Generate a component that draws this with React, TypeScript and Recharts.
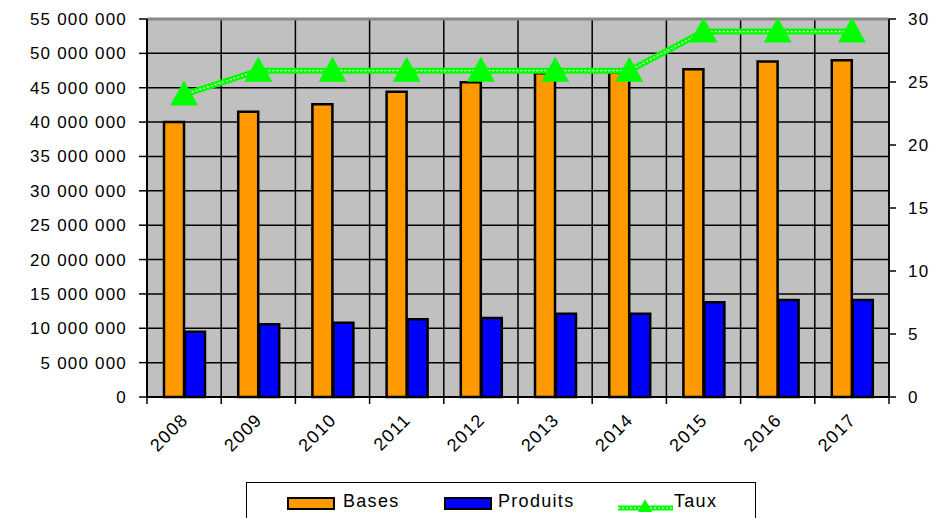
import React from 'react'
import {
  ComposedChart, Bar, Line, XAxis, YAxis, CartesianGrid, ReferenceLine,
} from 'recharts'

const years = ['2008', '2009', '2010', '2011', '2012', '2013', '2014', '2015', '2016', '2017']
const bases = [40000000, 41500000, 42600000, 44400000, 45800000, 47100000, 47200000, 47700000, 48800000, 49000000]
const produits = [9500000, 10600000, 10800000, 11300000, 11500000, 12100000, 12100000, 13800000, 14100000, 14100000]
const taux = [24.0, 25.9, 25.9, 25.9, 25.9, 25.9, 25.9, 29.0, 29.0, 29.0]
const leftTicks = [0, 5000000, 10000000, 15000000, 20000000, 25000000, 30000000, 35000000, 40000000, 45000000, 50000000, 55000000]
const rightTicks = [0, 5, 10, 15, 20, 25, 30]

const data = years.map((y, i) => ({ year: y, bases: bases[i], produits: produits[i], taux: taux[i] }))

const FONT = '"Liberation Sans", Arial, sans-serif'
const tickStyle = { fontFamily: FONT, fontSize: 17, fill: '#000', letterSpacing: 1.2 }

const fmt = (v: number) => String(v).replace(/\B(?=(\d{3})+(?!\d))/g, ' ')

function YearTick(props: any) {
  const { x, y, payload, index } = props
  const half = payload?.offset ?? 37
  return (
    <g>
      <line x1={x - half} y1={y - 8} x2={x - half} y2={y - 1} stroke="#000" strokeWidth={1.5} />
      {index === years.length - 1 && (
        <line x1={x + half} y1={y - 8} x2={x + half} y2={y - 1} stroke="#000" strokeWidth={1.5} />
      )}
      <text x={x + 5} y={y + 16} textAnchor="end" transform={`rotate(-45 ${x + 5} ${y + 16})`}
        style={{ ...tickStyle, fontSize: 18 }}>{payload.value}</text>
    </g>
  )
}

function Triangle(props: any) {
  const { cx, cy } = props
  if (cx == null || cy == null) return null
  return <polygon points={`${cx},${cy - 14} ${cx - 14},${cy + 11} ${cx + 14},${cy + 11}`} fill="#00ff00" />
}

function LegendBox() {
  const sw = (color: string) => ({
    position: 'absolute' as const, top: 14, width: 44, height: 9,
    background: color, border: '2px solid #000',
  })
  const txt = { position: 'absolute' as const, top: 8, fontFamily: FONT, fontSize: 18, letterSpacing: 1.3, color: '#000' }
  return (
    <div style={{
      position: 'absolute', left: 246, top: 482, width: 510, height: 40,
      border: '1px solid #000', background: '#fff', boxSizing: 'border-box',
    }}>
      <div style={{ ...sw('#ff9900'), left: 40 }} />
      <div style={{ ...txt, left: 96 }}>Bases</div>
      <div style={{ ...sw('#0000ff'), left: 197 }} />
      <div style={{ ...txt, left: 251 }}>Produits</div>
      <svg style={{ position: 'absolute', left: 370, top: 8 }} width={58} height={26}>
        <line x1={1} y1={17} x2={56} y2={17} stroke="#00ff00" strokeWidth={5} />
        <line x1={1} y1={17} x2={56} y2={17} stroke="#fff" strokeWidth={1} strokeDasharray="2 2" />
        <polygon points="28,8 21,21 35,21" fill="#00ff00" />
      </svg>
      <div style={{ ...txt, left: 427 }}>Taux</div>
    </div>
  )
}

export default function App() {
  return (
    <div style={{ position: 'absolute', left: 0, top: 0, width: 938, height: 518, background: '#fff', overflow: 'hidden' }}>
      <ComposedChart width={938} height={518} data={data}
        margin={{ top: 19, right: 0, bottom: 0, left: 0 }}
        barSize={20} barGap={1}>
        <CartesianGrid fill="#c0c0c0" stroke="#000" strokeWidth={1.5} yAxisId="left"
          verticalCoordinatesGenerator={({ offset }: any) =>
            years.map((_, i) => offset.left + (i * offset.width) / years.length).concat(offset.left + offset.width)}
        />
        <XAxis dataKey="year" height={121} tickLine={false} interval={0}
          axisLine={{ stroke: '#000', strokeWidth: 2 }} tick={<YearTick />} />
        <YAxis yAxisId="left" orientation="left" width={147} domain={[0, 55000000]} ticks={leftTicks}
          tickFormatter={fmt} tick={tickStyle} tickSize={8} tickMargin={12} interval={0}
          axisLine={{ stroke: '#000', strokeWidth: 2 }} tickLine={{ stroke: '#000', strokeWidth: 1.5 }} />
        <YAxis yAxisId="right" orientation="right" width={49} domain={[0, 30]} ticks={rightTicks}
          tick={tickStyle} tickSize={7} tickMargin={12} interval={0}
          axisLine={{ stroke: '#000', strokeWidth: 1.5 }} tickLine={{ stroke: '#000', strokeWidth: 1.5 }} />
        <ReferenceLine yAxisId="left" y={55000000} stroke="#888" strokeWidth={3} />
        <Bar yAxisId="left" dataKey="bases" fill="#ff9900" stroke="#000" strokeWidth={2.5} isAnimationActive={false} />
        <Bar yAxisId="left" dataKey="produits" fill="#0000ff" stroke="#000" strokeWidth={2.5} isAnimationActive={false} />
        <Line yAxisId="right" dataKey="taux" stroke="#00ff00" strokeWidth={6} dot={false} activeDot={false}
          isAnimationActive={false} />
        <Line yAxisId="right" dataKey="taux" stroke="#ffffff" strokeWidth={1.2} strokeDasharray="2 2"
          dot={<Triangle />} activeDot={false} isAnimationActive={false} />
      </ComposedChart>
      <LegendBox />
    </div>
  )
}
